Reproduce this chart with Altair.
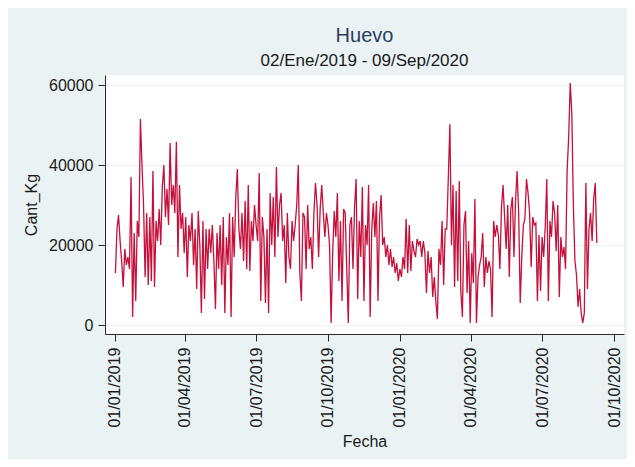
import altair as alt
import pandas as pd

v2019_01 = [13000, 24000, 27500, 21000, 16000, 9500, 19000, 15000, 17000, 14000, 37000, 2000, 23000, 6000, 26000]
v2019_02 = [22000, 51500, 40000, 30000, 12000, 28000, 10000, 27000, 11000, 38500, 9500, 26000, 21000, 29000]
v2019_03 = [20000, 34500, 40000, 27000, 34000, 25000, 45500, 30000, 35000, 28000, 45800, 17000, 35000, 24000, 28000, 18000]
v2019_04 = [27000, 12000, 25000, 21000, 28000, 15000, 24000, 9000, 28500, 20000, 3000, 26000, 6500, 24000, 14000]
v2019_05 = [24000, 18000, 25000, 16000, 4000, 23000, 14000, 25000, 10000, 27000, 3000, 22000, 15000, 28000, 2000]
v2019_06 = [27000, 17000, 32000, 39000, 24000, 19000, 28000, 16000, 31000, 14000, 35000, 13500, 26000, 21000, 30000]
v2019_07 = [25000, 21000, 38000, 6000, 27000, 22000, 5500, 24000, 3000, 33000, 20000, 32000, 17000, 39500, 22000, 30000]
v2019_08 = [33000, 21000, 25000, 10500, 28000, 17000, 14000, 26000, 21000, 25000, 30000, 40000, 13000, 6000, 28000]
v2019_09 = [27000, 14000, 30000, 19000, 22000, 14000, 28000, 35500, 30000, 17000, 29000, 35000, 28000, 22000, 28000]
v2019_10 = [25000, 20000, 500, 18000, 28500, 22000, 33000, 11000, 26000, 6000, 29000, 28000, 14000, 500, 25000, 27000]
v2019_11 = [14000, 29500, 36500, 6500, 26000, 17000, 34500, 6000, 25000, 20000, 35000, 2000, 24000, 30500, 22000]
v2019_12 = [31000, 6000, 27000, 32500, 20000, 22000, 17000, 20000, 15000, 19000, 14500, 17000, 13000, 15500, 11000]
v2020_01 = [14000, 12000, 17000, 14000, 26500, 13000, 25000, 13500, 21000, 18500, 17000, 21500, 20000, 21000, 17000, 21000]
v2020_02 = [18000, 8000, 18500, 13000, 17000, 7000, 12000, 6000, 1500, 19000, 15000, 26000, 10000, 24000]
v2020_03 = [24000, 37000, 50200, 20000, 35000, 9500, 33500, 11000, 36000, 8500, 2000, 25000, 28500, 8000, 21000, 500]
v2020_04 = [18000, 10500, 31500, 500, 12000, 15000, 17000, 23000, 9500, 17000, 13000, 16000, 14000, 2000, 26000]
v2020_05 = [22000, 25000, 22500, 14000, 29500, 35000, 27000, 19000, 30000, 12000, 29000, 32000, 17000, 31000, 38500]
v2020_06 = [28000, 5500, 17000, 25000, 26500, 36500, 33000, 28000, 14500, 27000, 25000, 25500, 6000, 22500, 8500]
v2020_07 = [22000, 17000, 24500, 36500, 6000, 26000, 22000, 31000, 28000, 18500, 30000, 7000, 22000, 17000, 19500, 14000]
v2020_08 = [38500, 47000, 60500, 53000, 30000, 16000, 12500, 4500, 9000, 3000, 500, 3000, 35500, 9000, 24000]
v2020_09 = [28000, 21000, 31500, 35500, 20500]

values = (v2019_01 + v2019_02 + v2019_03 + v2019_04 + v2019_05 + v2019_06 + v2019_07 + v2019_08
          + v2019_09 + v2019_10 + v2019_11 + v2019_12 + v2020_01 + v2020_02 + v2020_03 + v2020_04
          + v2020_05 + v2020_06 + v2020_07 + v2020_08 + v2020_09)

dates = pd.date_range("2019-01-02", "2020-09-09", freq="2D").strftime("%Y-%m-%d").tolist()

x_ticks = ["2019-01-01", "2019-04-01", "2019-07-01", "2019-10-01",
           "2020-01-01", "2020-04-01", "2020-07-01", "2020-10-01"]
y_ticks = [0, 20000, 40000, 60000]

df = pd.DataFrame({"Fecha": dates, "Cant_Kg": values})

FONT = "Liberation Sans"
BG = "#EAF2F3"


def dt(s, h=0):
    y, m, d = (int(p) for p in s.split("-"))
    return alt.DateTime(year=y, month=m, date=d, hours=h, utc=True)


line = alt.Chart(df).mark_line(color="#C4103A", strokeWidth=1.3).encode(
    x=alt.X(
        "Fecha:T",
        scale=alt.Scale(type="utc", domain=[dt("2018-12-19", 16), dt("2020-10-13", 19)], nice=False),
        axis=alt.Axis(
            values=[dt(s) for s in x_ticks],
            format="%d/%m/%Y",
            labelAngle=270,
            tickSize=7,
            labelPadding=6,
            grid=False,
            title="Fecha",
            titleY=112,
            titleBaseline="alphabetic",
        ),
    ),
    y=alt.Y(
        "Cant_Kg:Q",
        scale=alt.Scale(domain=[-2250, 62500], nice=False, zero=False),
        axis=alt.Axis(
            values=y_ticks,
            format="d",
            tickSize=7,
            labelPadding=5,
            grid=True,
            gridColor=BG,
            gridWidth=1,
            title="Cant_Kg",
            titleAngle=270,
            titleX=-74,
            titleY=129.5,
            titleAlign="center",
            titleBaseline="middle",
        ),
    ),
)

chart = line.properties(
    width=519,
    height=259,
    autosize=alt.AutoSizeParams(type="none"),
    padding={"left": 97, "top": 67, "right": 3, "bottom": 125},
    background=BG,
    title=alt.TitleParams(
        text="Huevo",
        subtitle="02/Ene/2019 - 09/Sep/2020",
        font=FONT,
        subtitleFont=FONT,
        fontSize=20,
        subtitleFontSize=17,
        fontWeight="normal",
        color="#2B3D63",
        subtitleColor="#1a1a1a",
        anchor="middle",
        offset=6,
        subtitlePadding=7,
    ),
).configure_view(
    fill="white",
    strokeWidth=0,
).configure_axis(
    domainColor="#2a2a2a",
    tickColor="#2a2a2a",
    labelColor="#1a1a1a",
    titleColor="#1a1a1a",
    labelFont=FONT,
    titleFont=FONT,
    labelFontSize=16,
    titleFontSize=16,
    titleFontWeight="normal",
    domainWidth=1,
    tickWidth=1,
)

chart.save("out.html", embed_options={"renderer": "svg", "actions": False})
